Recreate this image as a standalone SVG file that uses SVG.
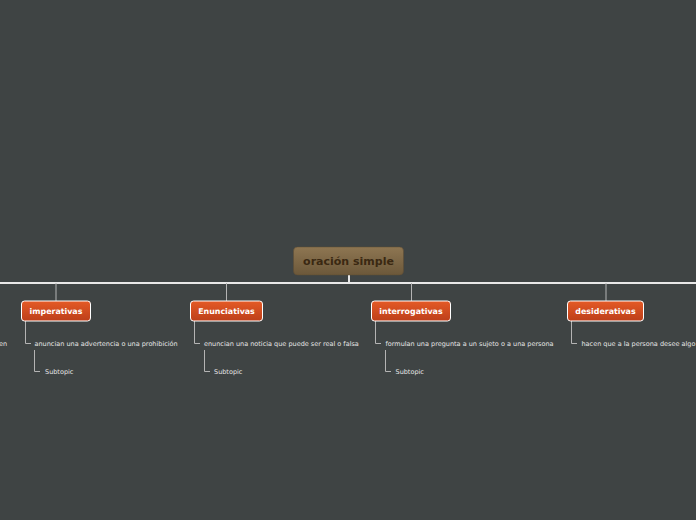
<svg xmlns="http://www.w3.org/2000/svg" width="696" height="520" viewBox="0 0 696 520">
<defs>
<linearGradient id="gMain" x1="0" y1="0" x2="0" y2="1">
<stop offset="0" stop-color="#8e7652"/>
<stop offset="1" stop-color="#6c583a"/>
</linearGradient>
<linearGradient id="gSub" x1="0" y1="0" x2="0" y2="1">
<stop offset="0" stop-color="#e45a26"/>
<stop offset="1" stop-color="#bd3f1a"/>
</linearGradient>
<style>
.main{fill:url(#gMain);stroke:#5e4d33;stroke-width:0.5}
.mt{font-family:"DejaVu Sans",Verdana,sans-serif;font-size:11px;font-weight:bold;fill:#3a2812;text-anchor:middle}
.box{fill:url(#gSub);stroke:#ffffff;stroke-width:1}
.bt{font-family:"DejaVu Sans",Verdana,sans-serif;font-size:7.9px;font-weight:bold;fill:#ffffff;text-anchor:middle}
.st{font-family:"DejaVu Sans",Verdana,sans-serif;font-size:6.5px;fill:#e6e6e6}
.c{fill:none;stroke:#b4b4b4;stroke-width:1}
.cw{fill:none;stroke:#e8e8e8;stroke-width:2}
</style>
</defs>
<rect width="696" height="520" fill="#3f4444"/>
<g id="connectors">
<line class="cw" x1="0" y1="283" x2="696" y2="283"/>
<line class="cw" x1="349" y1="275" x2="349" y2="283"/>
<path class="c" d="M56 283V301M226.5 283V301M411.5 283V301M606 283V301"/>
<path class="c" d="M25.5 321V343.5H31M34.5 350V371.5H40"/>
<path class="c" d="M194.5 321V343.5H200M204.5 350V371.5H210"/>
<path class="c" d="M375.5 321V343.5H381M385.5 350V371.5H391"/>
<path class="c" d="M571.5 321V343.5H577"/>
</g>
<g id="n-main">
<rect class="main" x="293.5" y="247" width="110" height="28" rx="4"/>
<text class="mt" x="348.5" y="265">oración simple</text>
</g>
<g id="n-imperativas">
<rect class="box" x="21.5" y="301" width="69" height="20" rx="3"/>
<text class="bt" x="56" y="314">imperativas</text>
</g>
<g id="n-enunciativas">
<rect class="box" x="190.5" y="301" width="72" height="20" rx="3"/>
<text class="bt" x="226.5" y="314">Enunciativas</text>
</g>
<g id="n-interrogativas">
<rect class="box" x="371.5" y="301" width="79" height="20" rx="3"/>
<text class="bt" x="411" y="314">interrogativas</text>
</g>
<g id="n-desiderativas">
<rect class="box" x="567.5" y="301" width="76" height="20" rx="3"/>
<text class="bt" x="605.5" y="314">desiderativas</text>
</g>
<g id="t-left">
<text class="st" x="-1" y="345.5">en</text>
</g>
<g id="t-imp">
<text class="st" x="34.5" y="345.5">anuncian una advertencia o una prohibición</text>
<text class="st" x="45" y="373.5">Subtopic</text>
</g>
<g id="t-enu">
<text class="st" x="204" y="345.5">enuncian una noticia que puede ser real o falsa</text>
<text class="st" x="214" y="373.5">Subtopic</text>
</g>
<g id="t-int">
<text class="st" x="385.5" y="345.5">formulan una pregunta a un sujeto o a una persona</text>
<text class="st" x="395.5" y="373.5">Subtopic</text>
</g>
<g id="t-des">
<text class="st" x="581.5" y="345.5">hacen que a la persona desee algo</text>
</g>
</svg>
